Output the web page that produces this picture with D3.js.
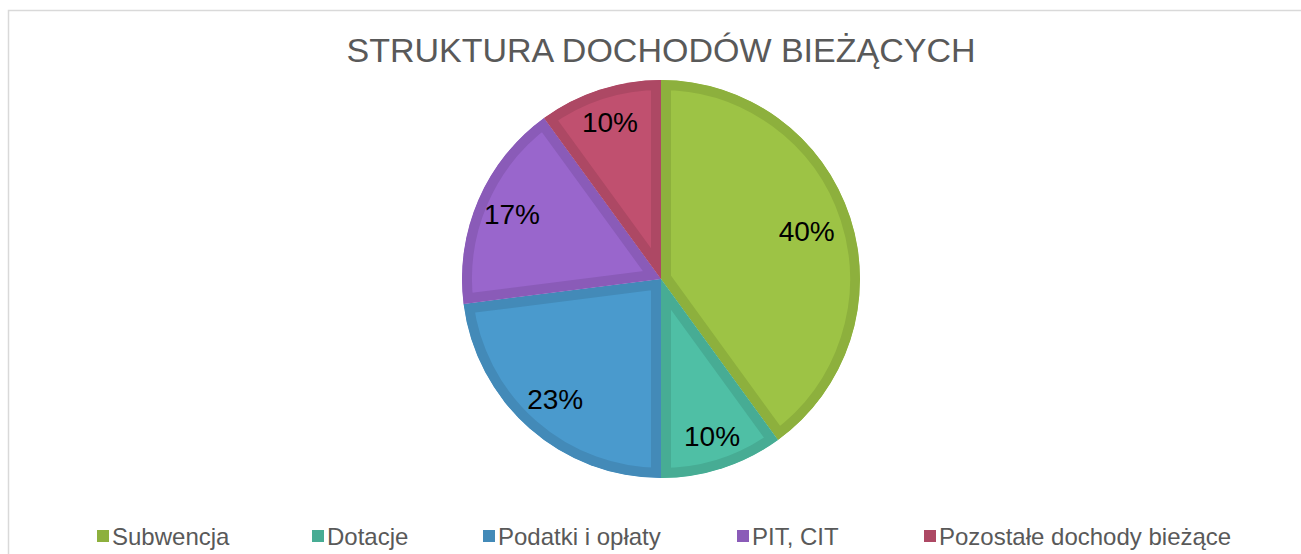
<!DOCTYPE html>
<html>
<head>
<meta charset="utf-8">
<script src="https://cdn.jsdelivr.net/npm/d3@7"></script>
<style>
  body { margin: 0; background: #fff; }
  text { font-family: "Liberation Sans", Arial, sans-serif; }
</style>
</head>
<body>
<div id="chart"></div>
<script>
// data
const categories = ["Subwencja", "Dotacje", "Podatki i opłaty", "PIT, CIT", "Pozostałe dochody bieżące"];
const shares = [40, 10, 23, 17, 10];
const fills = ["#9dc345", "#4fbfa5", "#4a9acd", "#9966cc", "#c0506f"];
const edges = ["#8db03d", "#47ac94", "#438ab8", "#8a5bb8", "#ad4864"];
const title = "STRUKTURA DOCHODÓW BIEŻĄCYCH";

const width = 1301, height = 554;
const cx = 661, cy = 279, radius = 199;

const svg = d3.select("#chart").append("svg")
    .attr("width", width)
    .attr("height", height);

// chart frame
svg.append("rect")
    .attr("x", 8.5).attr("y", 10.5)
    .attr("width", width + 20).attr("height", height + 20)
    .attr("fill", "none")
    .attr("stroke", "#d9d9d9")
    .attr("stroke-width", 1.5);

svg.append("text")
    .attr("x", cx)
    .attr("y", 62)
    .attr("text-anchor", "middle")
    .attr("font-size", "34px")
    .attr("fill", "#595959")
    .text(title);

const data = categories.map((c, i) => ({name: c, value: shares[i], fill: fills[i], edge: edges[i]}));

const pie = d3.pie().value(d => d.value).sort(null);
const arc = d3.arc().innerRadius(0).outerRadius(radius);

const g = svg.append("g").attr("transform", `translate(${cx},${cy})`);
const defs = svg.append("defs");

const arcs = pie(data);

arcs.forEach((d, i) => {
  defs.append("clipPath").attr("id", "clip" + i)
    .append("path").attr("d", arc(d));
});

g.selectAll("path.slice")
  .data(arcs)
  .enter()
  .append("path")
    .attr("class", "slice")
    .attr("d", arc)
    .attr("fill", d => d.data.fill)
    .attr("stroke", d => d.data.edge)
    .attr("stroke-width", 20)
    .attr("clip-path", (d, i) => `url(#clip${i})`);

// labels sit near the outer end, narrow slices a bit further out
function labelPos(d) {
  const frac = (d.endAngle - d.startAngle) / (2 * Math.PI);
  const r = radius * (0.85 - 0.2 * frac);
  return d3.arc().innerRadius(r).outerRadius(r).centroid(d);
}

g.selectAll("text.lbl")
  .data(arcs)
  .enter()
  .append("text")
    .attr("class", "lbl")
    .attr("transform", d => `translate(${labelPos(d)})`)
    .attr("text-anchor", "middle")
    .attr("dy", "0.35em")
    .attr("font-size", "28px")
    .attr("fill", "#000")
    .text(d => d.data.value + "%");

// legend
const legendX = [97, 312, 483, 737, 924];
const legend = svg.append("g");
data.forEach((d, i) => {
  legend.append("rect")
    .attr("x", legendX[i]).attr("y", 530)
    .attr("width", 12).attr("height", 12)
    .attr("fill", d.edge);
  legend.append("text")
    .attr("x", legendX[i] + 15).attr("y", 545)
    .attr("font-size", "24px")
    .attr("fill", "#595959")
    .text(d.name);
});
</script>
</body>
</html>
